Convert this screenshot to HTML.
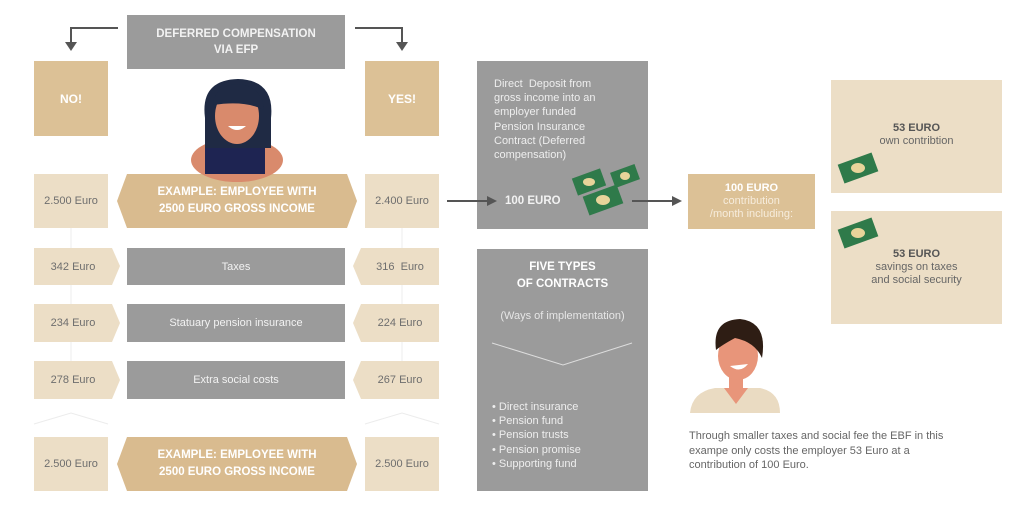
<!DOCTYPE html>
<html><head><style>
*{margin:0;padding:0;box-sizing:border-box}
body{width:1024px;height:512px;background:#fff;position:relative;overflow:hidden;font-family:"Liberation Sans",sans-serif}
.a{position:absolute;display:flex;align-items:center;justify-content:center;text-align:center}
.g{background:#9b9b9b;color:#f2f2f2}
.t{background:#dcc196;color:#fff}
.l{background:#ecdec6;color:#6e6e6e;font-size:11px}
.b{font-weight:bold}
</style></head><body>
<svg width="1024" height="512" style="position:absolute;left:0;top:0">
<g stroke="#555" stroke-width="2" fill="none">
<polyline points="118,28 71,28 71,44"/><polyline points="355,28 402,28 402,44"/>
<line x1="447" y1="201" x2="487" y2="201"/><line x1="632" y1="201" x2="672" y2="201"/>
</g>
<g fill="#555"><polygon points="65,42 77,42 71,51"/><polygon points="396,42 408,42 402,51"/>
<polygon points="487,196 497,201 487,206"/><polygon points="672,196 682,201 672,206"/></g>
<g stroke="#ececec" stroke-width="1" fill="none">
<line x1="71" y1="228" x2="71" y2="248"/><line x1="71" y1="285" x2="71" y2="304"/><line x1="71" y1="342" x2="71" y2="361"/>
<line x1="402" y1="228" x2="402" y2="248"/><line x1="402" y1="285" x2="402" y2="304"/><line x1="402" y1="342" x2="402" y2="361"/>
<polyline points="34,424 71,413 108,424"/><polyline points="365,424 402,413 439,424"/>
</g>
<polygon points="127,174 347,174 357,201 347,228 127,228 117,201" fill="#d9bb8f"/>
<polygon points="127,437 347,437 357,464 347,491 127,491 117,464" fill="#d9bb8f"/>
<g fill="#ecdec6">
<polygon points="34,248 112,248 120,266 112,285 34,285"/><polygon points="34,304 112,304 120,323 112,342 34,342"/><polygon points="34,361 112,361 120,380 112,399 34,399"/>
<polygon points="361,248 439,248 439,285 361,285 353,266"/><polygon points="361,304 439,304 439,342 361,342 353,323"/><polygon points="361,361 439,361 439,399 361,399 353,380"/>
</g>
<!-- woman -->
<ellipse cx="237" cy="160" rx="46" ry="22" fill="#d98a6c"/>
<rect x="205" y="138" width="60" height="36" fill="#1e2452"/>
<path d="M205,118 Q200,80 238,79 Q275,80 271,118 L271,148 L205,148 Z" fill="#1f2a44"/>
<ellipse cx="237" cy="116" rx="22" ry="28" fill="#d98a6c"/>
<path d="M213,105 Q215,85 238,84 Q262,86 264,110 Q245,100 213,105Z" fill="#1f2a44"/>
<path d="M228,126 Q237,134 246,126Z" fill="#fff"/>
<!-- man -->
<path d="M690,413 Q692,392 715,388 L760,388 Q780,392 780,413Z" fill="#eadbc2"/>
<path d="M724,388 L736,404 L748,388Z" fill="#e8957a"/>
<rect x="729" y="370" width="14" height="22" fill="#e8957a"/>
<ellipse cx="738" cy="356" rx="20" ry="24" fill="#e8957a"/>
<path d="M716,350 Q712,320 740,319 Q768,322 762,358 Q755,342 735,338 Q722,345 716,350Z" fill="#2e1d14"/>
<path d="M730,366 Q740,374 748,364Z" fill="#fff"/>
<!-- money -->
<g fill="#2f7a4a"><rect x="574" y="173" width="30" height="18" transform="rotate(-20 589 182)"/><rect x="612" y="168" width="26" height="16" transform="rotate(-20 625 176)"/><rect x="585" y="190" width="36" height="20" transform="rotate(-20 603 200)"/>
<rect x="840" y="158" width="36" height="20" transform="rotate(-20 858 168)"/><rect x="840" y="223" width="36" height="20" transform="rotate(-20 858 233)"/></g>
<g fill="#e8d49a"><ellipse cx="589" cy="182" rx="6" ry="4"/><ellipse cx="625" cy="176" rx="5" ry="4"/><ellipse cx="603" cy="200" rx="7" ry="5"/><ellipse cx="858" cy="168" rx="7" ry="5"/><ellipse cx="858" cy="233" rx="7" ry="5"/></g>
<polyline points="492,343 563,365 632,343" stroke="#ddd" fill="none" stroke-width="1"/>
</svg>
<div class="a g b" style="left:127px;top:15px;width:218px;height:54px;font-size:11.5px;line-height:16px">DEFERRED COMPENSATION<br>VIA EFP</div>
<div class="a t b" style="left:34px;top:61px;width:74px;height:75px;font-size:12px">NO!</div>
<div class="a t b" style="left:365px;top:61px;width:74px;height:75px;font-size:12px">YES!</div>
<div class="a l" style="left:34px;top:174px;width:74px;height:54px">2.500 Euro</div>
<div class="a l" style="left:365px;top:174px;width:74px;height:54px">2.400 Euro</div>
<div class="a b" style="left:117px;top:174px;width:240px;height:54px;color:#fff;font-size:11.5px;line-height:17px">EXAMPLE: EMPLOYEE WITH<br>2500 EURO GROSS INCOME</div>
<div class="a l" style="left:34px;top:437px;width:74px;height:54px">2.500 Euro</div>
<div class="a l" style="left:365px;top:437px;width:74px;height:54px">2.500 Euro</div>
<div class="a b" style="left:117px;top:437px;width:240px;height:54px;color:#fff;font-size:11.5px;line-height:17px">EXAMPLE: EMPLOYEE WITH<br>2500 EURO GROSS INCOME</div>
<div class="a" style="left:34px;top:248px;width:78px;height:37px;color:#6e6e6e;font-size:11px">342 Euro</div>
<div class="a" style="left:34px;top:304px;width:78px;height:38px;color:#6e6e6e;font-size:11px">234 Euro</div>
<div class="a" style="left:34px;top:361px;width:78px;height:38px;color:#6e6e6e;font-size:11px">278 Euro</div>
<div class="a" style="left:361px;top:248px;width:78px;height:37px;color:#6e6e6e;font-size:11px">316&nbsp; Euro</div>
<div class="a" style="left:361px;top:304px;width:78px;height:38px;color:#6e6e6e;font-size:11px">224 Euro</div>
<div class="a" style="left:361px;top:361px;width:78px;height:38px;color:#6e6e6e;font-size:11px">267 Euro</div>
<div class="a g" style="left:127px;top:248px;width:218px;height:37px;font-size:11px">Taxes</div>
<div class="a g" style="left:127px;top:304px;width:218px;height:38px;font-size:11px">Statuary pension insurance</div>
<div class="a g" style="left:127px;top:361px;width:218px;height:38px;font-size:11px">Extra social costs</div>
<div class="g" style="position:absolute;left:477px;top:61px;width:171px;height:168px;z-index:-1"></div>
<div style="position:absolute;left:494px;top:77px;color:#eee;font-size:11px;line-height:14.2px">Direct&nbsp; Deposit from<br>gross income into an<br>employer funded<br>Pension Insurance<br>Contract (Deferred<br>compensation)</div>
<div class="b" style="position:absolute;left:505px;top:195px;color:#f2f2f2;font-size:11.5px">100 EURO</div>
<div class="a t" style="left:688px;top:174px;width:127px;height:55px;font-size:11px;line-height:13px;color:#f6ecdc"><div><b style="color:#fff">100 EURO</b><br>contribution<br>/month including:</div></div>
<div class="l" style="position:absolute;left:831px;top:80px;width:171px;height:113px;z-index:-1"></div>
<div class="l" style="position:absolute;left:831px;top:211px;width:171px;height:113px;z-index:-1"></div>
<div class="a" style="left:831px;top:122px;width:171px;color:#666;font-size:11px;line-height:13px"><div><b style="color:#555">53 EURO</b><br>own contribtion</div></div>
<div class="a" style="left:831px;top:248px;width:171px;color:#666;font-size:11px;line-height:13px"><div><b style="color:#555">53 EURO</b><br>savings on taxes<br>and social security</div></div>
<div class="g" style="position:absolute;left:477px;top:249px;width:171px;height:242px;z-index:-1"></div>
<div class="a b" style="left:477px;top:259px;width:171px;color:#fff;font-size:11.5px;line-height:17px">FIVE TYPES<br>OF CONTRACTS</div>
<div class="a" style="left:477px;top:310px;width:171px;color:#e6e6e6;font-size:11px">(Ways of implementation)</div>
<div style="position:absolute;left:492px;top:400px;color:#eee;font-size:11px;line-height:14.2px">• Direct insurance<br>• Pension fund<br>• Pension trusts<br>• Pension promise<br>• Supporting fund</div>
<div style="position:absolute;left:689px;top:429px;color:#666;font-size:11px;line-height:14.5px">Through smaller taxes and social fee the EBF in this<br>exampe only costs the employer 53 Euro at a<br>contribution of 100 Euro.</div>
</body></html>
